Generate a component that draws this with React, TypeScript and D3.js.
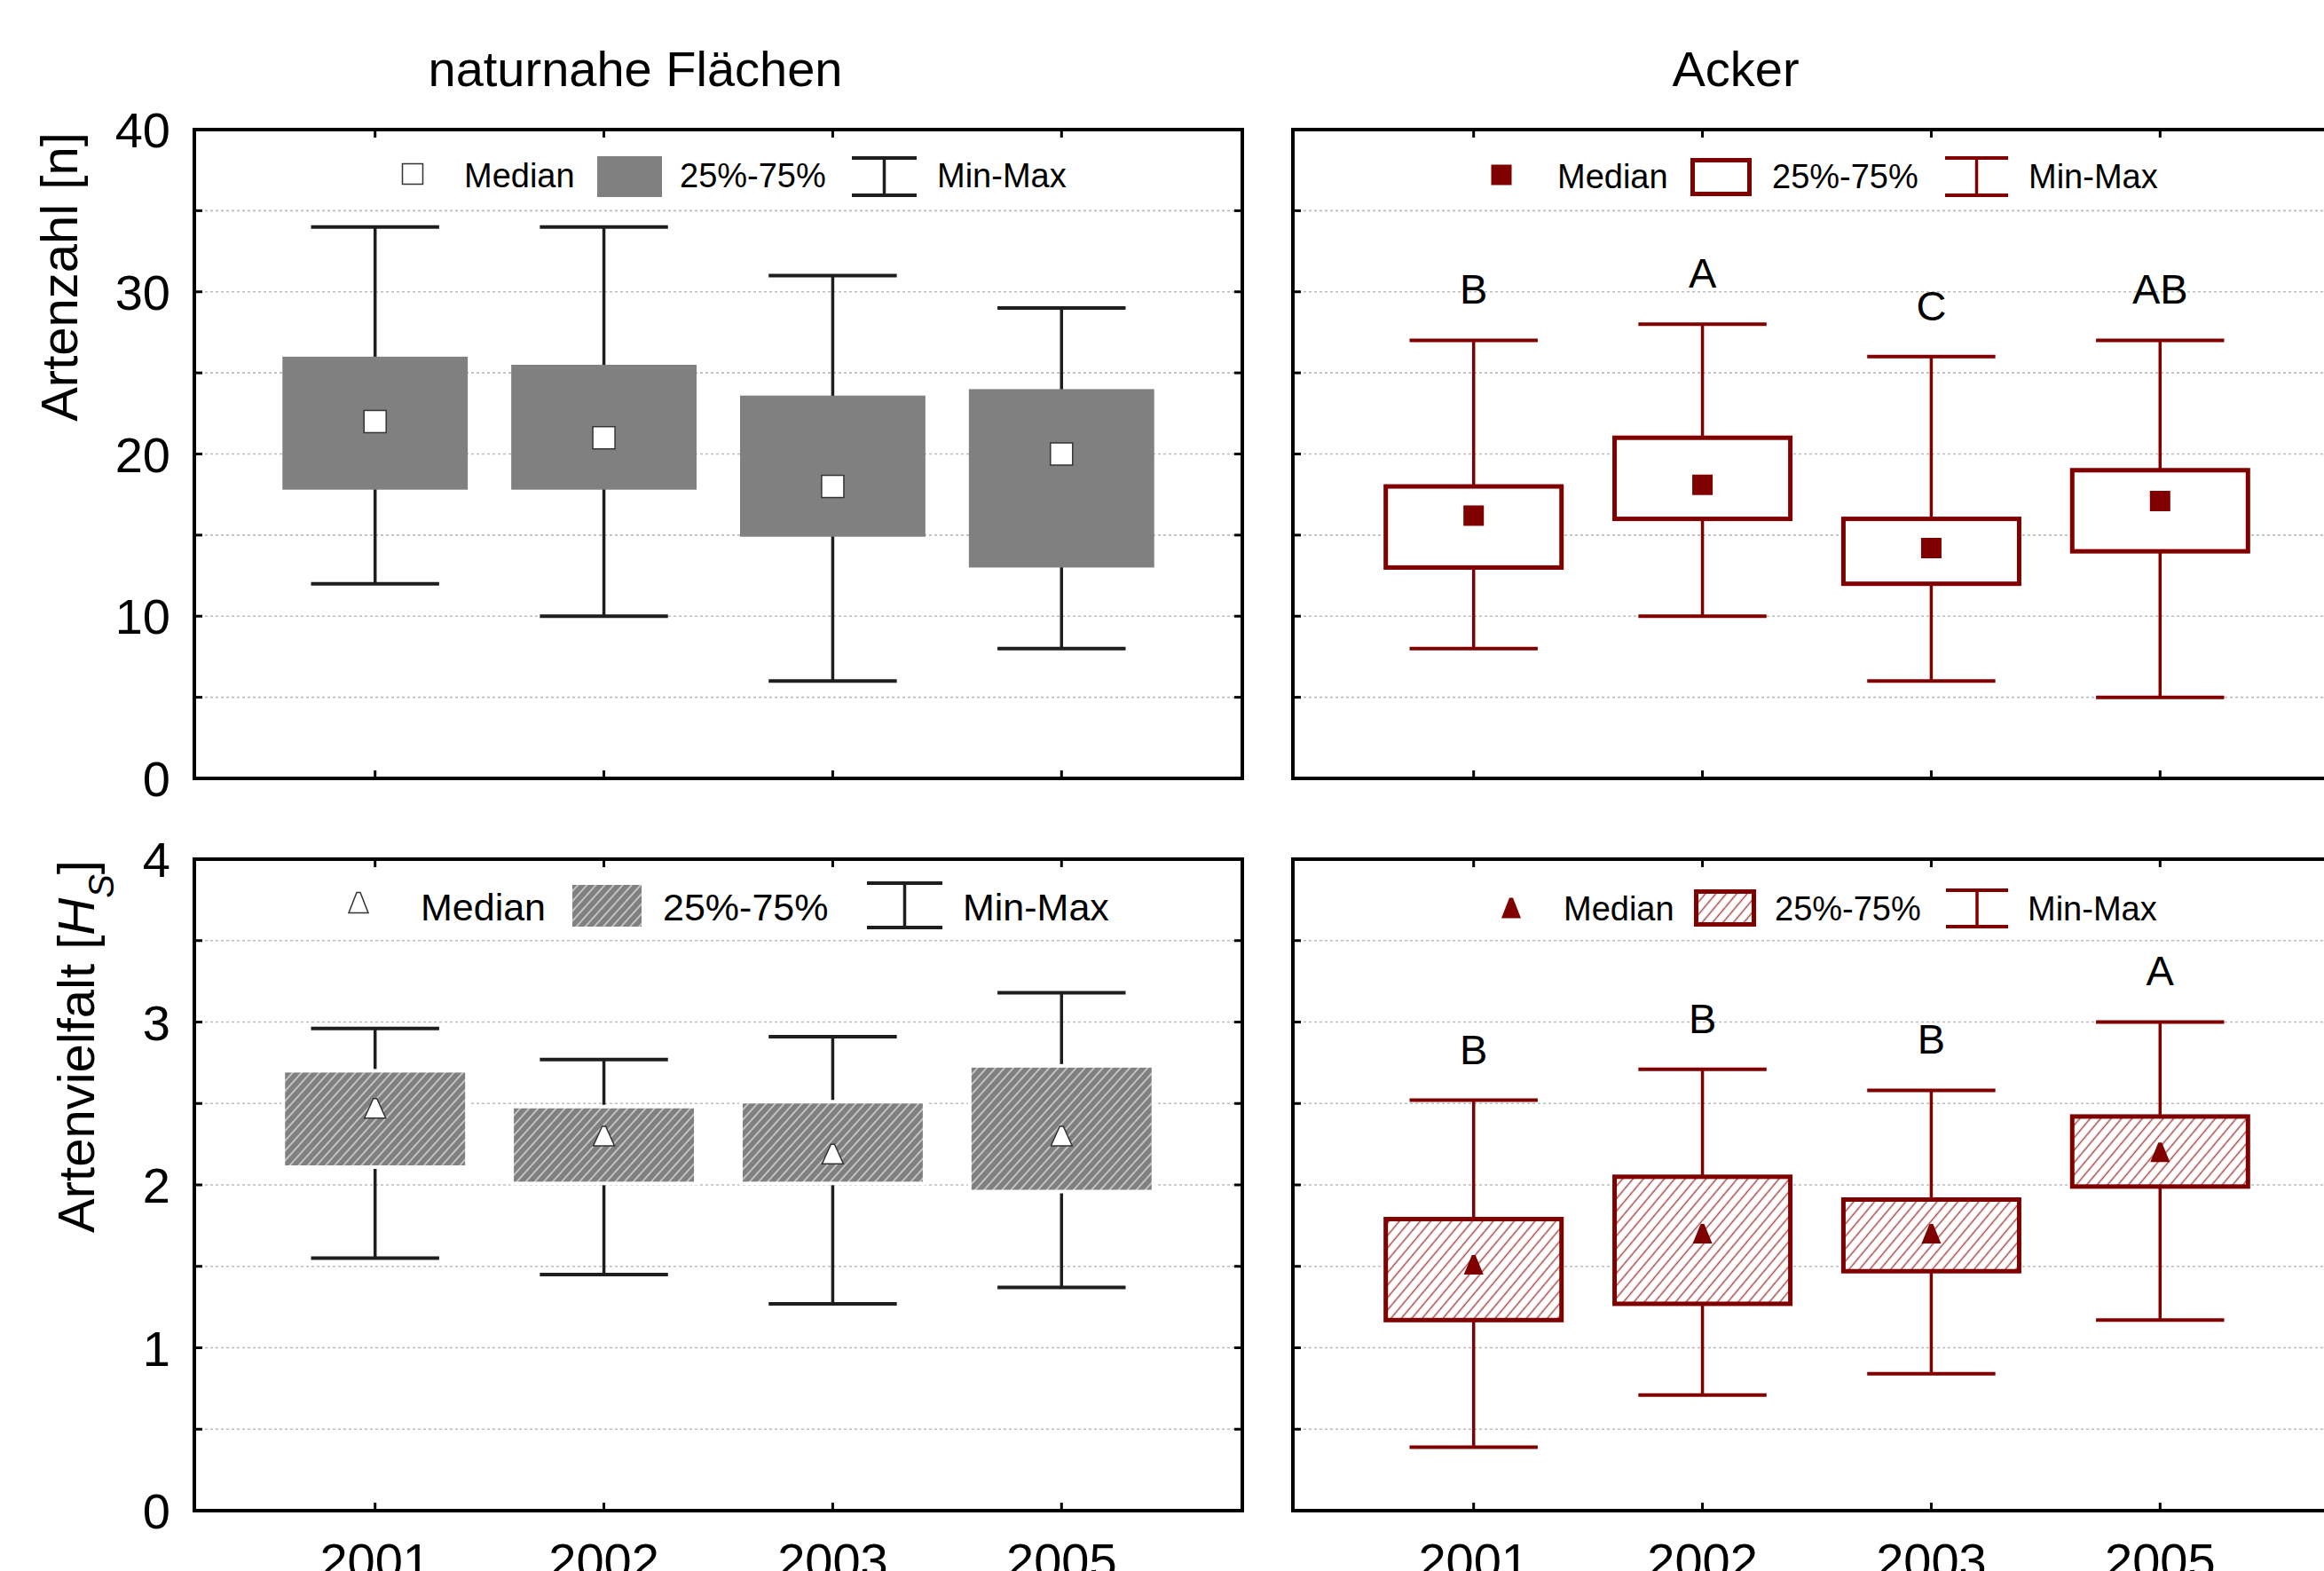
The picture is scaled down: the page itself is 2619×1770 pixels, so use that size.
import React from 'react'
import * as d3 from 'd3'

const W = 2619
const H = 1770
const font = '"Liberation Sans", Arial, Helvetica, sans-serif'
const dark = '#1e1e1e'
const red = '#800000'
const gray = '#808080'

const years = ['2001', '2002', '2003', '2005']

// Artenzahl [n], naturnahe Flächen
const natNMin = [12, 10, 6, 8]
const natNQ1 = [17.8, 17.8, 14.9, 13.0]
const natNMed = [22, 21, 18, 20]
const natNQ3 = [26, 25.5, 23.6, 24]
const natNMax = [34, 34, 31, 29]

// Artenzahl [n], Acker
const ackNMin = [8, 10, 6, 5]
const ackNQ1 = [13, 16, 12, 14]
const ackNMed = [16.2, 18.1, 14.2, 17.1]
const ackNQ3 = [18, 21, 16, 19]
const ackNMax = [27, 28, 26, 27]
const ackNLetters = ['B', 'A', 'C', 'AB']

// Artenvielfalt [Hs], naturnahe Flächen
const natHMin = [1.55, 1.45, 1.27, 1.37]
const natHQ1 = [2.12, 2.02, 2.02, 1.97]
const natHMed = [2.47, 2.30, 2.19, 2.30]
const natHQ3 = [2.69, 2.47, 2.50, 2.72]
const natHMax = [2.96, 2.77, 2.91, 3.18]

// Artenvielfalt [Hs], Acker
const ackHMin = [0.39, 0.71, 0.84, 1.17]
const ackHQ1 = [1.17, 1.27, 1.47, 1.99]
const ackHMed = [1.51, 1.70, 1.70, 2.20]
const ackHQ3 = [1.79, 2.05, 1.91, 2.42]
const ackHMax = [2.52, 2.71, 2.58, 3.00]
const ackHLetters = ['B', 'B', 'B', 'A']

const panelW = 1181

function triangle(cx: number, cy: number, w: number, h: number) {
  return `M${cx - 2},${cy - h / 2}L${cx + 2},${cy - h / 2}L${cx + w / 2},${cy + h / 2}L${cx - w / 2},${cy + h / 2}Z`
}

type PanelProps = {
  left: number
  top: number
  bottom: number
  yMax: number
  gridStep: number
  labelStep: number
  showY: boolean
  showX: boolean
  mins: number[]
  q1s: number[]
  meds: number[]
  q3s: number[]
  maxs: number[]
  letters?: string[]
  variant: 'gray' | 'red' | 'grayHatch' | 'redHatch'
}

function BoxPanel(p: PanelProps) {
  const right = p.left + panelW
  const x = d3.scalePoint<string>().domain(years).range([p.left, right]).padding(0.79)
  const y = d3.scaleLinear().domain([0, p.yMax]).range([p.bottom, p.top])
  const step = x.step()
  const isRed = p.variant === 'red' || p.variant === 'redHatch'
  const lineCol = isRed ? red : dark
  const boxW = p.variant === 'gray' ? step * 0.81 : isRed ? step * 0.768 : step * 0.787
  const capW = step * 0.56
  const grid = d3.range(p.gridStep, p.yMax - 1e-9, p.gridStep)
  const allTicks = d3.range(0, p.yMax + 1e-9, p.gridStep)
  const labels = d3.range(0, p.yMax + 1e-9, p.labelStep)
  const tri = p.variant === 'grayHatch' || p.variant === 'redHatch'

  return (
    <g>
      {grid.map(v => (
        <line key={'g' + v} x1={p.left} x2={right} y1={y(v)} y2={y(v)}
          stroke='#bcbcbc' strokeWidth={1.6} strokeDasharray='3,3' />
      ))}

      {years.map((yr, i) => {
        const cx = x(yr) as number
        return (
          <g key={yr}>
            <line x1={cx} x2={cx} y1={y(p.maxs[i])} y2={y(p.mins[i])} stroke={lineCol} strokeWidth={3.5} />
            <line x1={cx - capW / 2} x2={cx + capW / 2} y1={y(p.maxs[i])} y2={y(p.maxs[i])} stroke={lineCol} strokeWidth={4} />
            <line x1={cx - capW / 2} x2={cx + capW / 2} y1={y(p.mins[i])} y2={y(p.mins[i])} stroke={lineCol} strokeWidth={4} />
            {p.variant === 'grayHatch' && (
              <rect x={cx - boxW / 2 - 4} y={y(p.q3s[i]) - 4} width={boxW + 8}
                height={y(p.q1s[i]) - y(p.q3s[i]) + 8} fill='white' />
            )}
            <rect x={cx - boxW / 2} y={y(p.q3s[i])} width={boxW} height={y(p.q1s[i]) - y(p.q3s[i])}
              fill={p.variant === 'gray' ? gray : p.variant === 'red' ? 'white'
                : p.variant === 'grayHatch' ? 'url(#hatchGray)' : 'url(#hatchRed)'}
              stroke={isRed ? red : 'none'} strokeWidth={isRed ? 5 : 0} />
            {tri ? (
              <path d={triangle(cx, y(p.meds[i]), isRed ? 22 : 24, 22)}
                fill={isRed ? red : 'white'} stroke={isRed ? 'none' : '#333'} strokeWidth={1.5} />
            ) : (
              <rect x={cx - (isRed ? 11.5 : 12.5)} y={y(p.meds[i]) - (isRed ? 11.5 : 12.5)}
                width={isRed ? 23 : 25} height={isRed ? 23 : 25}
                fill={isRed ? red : 'white'} stroke={isRed ? 'none' : '#333'} strokeWidth={1.5} />
            )}
            {p.letters && (
              <text x={cx} y={y(p.maxs[i]) - 58} dy='0.36em' textAnchor='middle'
                fontSize={47} fontFamily={font} fill='black'>{p.letters[i]}</text>
            )}
          </g>
        )
      })}

      <rect x={p.left} y={p.top} width={panelW} height={p.bottom - p.top}
        fill='none' stroke='black' strokeWidth={4} />

      {allTicks.map(v => (
        <g key={'t' + v}>
          <line x1={p.left} x2={p.left + 9} y1={y(v)} y2={y(v)} stroke='black' strokeWidth={3} />
          <line x1={right - 9} x2={right} y1={y(v)} y2={y(v)} stroke='black' strokeWidth={3} />
        </g>
      ))}
      {years.map(yr => (
        <g key={'xt' + yr}>
          <line x1={x(yr)} x2={x(yr)} y1={p.top} y2={p.top + 9} stroke='black' strokeWidth={3} />
          <line x1={x(yr)} x2={x(yr)} y1={p.bottom - 9} y2={p.bottom} stroke='black' strokeWidth={3} />
        </g>
      ))}

      {p.showY && labels.map(v => (
        <text key={'yl' + v} x={p.left - 27} y={y(v)} dy='0.36em' textAnchor='end'
          fontSize={56} fontFamily={font} fill='black'>{v}</text>
      ))}
      {p.showX && years.map(yr => (
        <text key={'xl' + yr} x={x(yr)} y={p.bottom + 76} textAnchor='middle'
          fontSize={56} fontFamily={font} fill='black'>{yr}</text>
      ))}
    </g>
  )
}

type LegendProps = {
  markerX: number
  markerY: number
  medianX: number
  boxX: number
  boxY: number
  boxW: number
  boxH: number
  pctX: number
  whiskX: number
  whiskY: number
  whiskW: number
  whiskH: number
  minMaxX: number
  baseline: number
  fontSize: number
  variant: 'gray' | 'red' | 'grayHatch' | 'redHatch'
}

function Legend(l: LegendProps) {
  const isRed = l.variant === 'red' || l.variant === 'redHatch'
  const tri = l.variant === 'grayHatch' || l.variant === 'redHatch'
  const col = isRed ? red : dark
  const sw = isRed ? 5 : 0
  const wc = l.whiskX + l.whiskW / 2
  return (
    <g fontFamily={font} fontSize={l.fontSize} fill='black'>
      {tri ? (
        <path d={triangle(l.markerX, l.markerY, 22, 23)} fill={isRed ? red : 'white'}
          stroke={isRed ? 'none' : '#333'} strokeWidth={1.5} />
      ) : (
        <rect x={l.markerX - 11.5} y={l.markerY - 11.5} width={23} height={23}
          fill={isRed ? red : 'white'} stroke={isRed ? 'none' : '#333'} strokeWidth={1.5} />
      )}
      <text x={l.medianX} y={l.baseline}>Median</text>
      <rect x={l.boxX + sw / 2} y={l.boxY + sw / 2} width={l.boxW - sw} height={l.boxH - sw}
        fill={l.variant === 'gray' ? gray : l.variant === 'red' ? 'white'
          : l.variant === 'grayHatch' ? 'url(#hatchGray)' : 'url(#hatchRed)'}
        stroke={isRed ? red : 'none'} strokeWidth={sw} />
      <text x={l.pctX} y={l.baseline}>25%-75%</text>
      <line x1={wc} x2={wc} y1={l.whiskY} y2={l.whiskY + l.whiskH} stroke={col} strokeWidth={3.5} />
      <line x1={l.whiskX} x2={l.whiskX + l.whiskW} y1={l.whiskY + 2} y2={l.whiskY + 2} stroke={col} strokeWidth={4} />
      <line x1={l.whiskX} x2={l.whiskX + l.whiskW} y1={l.whiskY + l.whiskH - 2} y2={l.whiskY + l.whiskH - 2} stroke={col} strokeWidth={4} />
      <text x={l.minMaxX} y={l.baseline}>Min-Max</text>
    </g>
  )
}

export default function App() {
  return (
    <svg width={W} height={H} style={{ position: 'absolute', left: 0, top: 0, display: 'block' }}
      xmlns='http://www.w3.org/2000/svg'>
      <defs>
        <pattern id='hatchGray' patternUnits='userSpaceOnUse' width={7.5} height={7.5} patternTransform='rotate(42)'>
          <rect width={7.5} height={7.5} fill={gray} />
          <line x1={3.75} x2={3.75} y1={0} y2={7.5} stroke='#dcdcdc' strokeWidth={1.4} />
        </pattern>
        <pattern id='hatchRed' patternUnits='userSpaceOnUse' width={9} height={9} patternTransform='rotate(40)'>
          <rect width={9} height={9} fill='white' />
          <line x1={4.5} x2={4.5} y1={0} y2={9} stroke='#a84848' strokeWidth={1.5} />
        </pattern>
      </defs>
      <rect width={W} height={H} fill='white' />

      <text x={716} y={97} textAnchor='middle' fontSize={56} fontFamily={font}>naturnahe Flächen</text>
      <text x={1956} y={97} textAnchor='middle' fontSize={56} fontFamily={font}>Acker</text>

      <text transform='translate(87,312) rotate(-90)' textAnchor='middle' fontSize={58} fontFamily={font}>
        Artenzahl [n]
      </text>
      <text transform='translate(106,1179) rotate(-90)' textAnchor='middle' fontSize={58} fontFamily={font}>
        Artenvielfalt [<tspan fontStyle='italic'>H</tspan><tspan fontStyle='italic' fontSize={40} baselineShift='sub'>S</tspan>]
      </text>

      <BoxPanel left={219} top={146} bottom={877} yMax={40} gridStep={5} labelStep={10}
        showY showX={false} mins={natNMin} q1s={natNQ1} meds={natNMed} q3s={natNQ3} maxs={natNMax}
        variant='gray' />
      <BoxPanel left={1457} top={146} bottom={877} yMax={40} gridStep={5} labelStep={10}
        showY={false} showX={false} mins={ackNMin} q1s={ackNQ1} meds={ackNMed} q3s={ackNQ3} maxs={ackNMax}
        letters={ackNLetters} variant='red' />
      <BoxPanel left={219} top={968} bottom={1702} yMax={4} gridStep={0.5} labelStep={1}
        showY showX mins={natHMin} q1s={natHQ1} meds={natHMed} q3s={natHQ3} maxs={natHMax}
        variant='grayHatch' />
      <BoxPanel left={1457} top={968} bottom={1702} yMax={4} gridStep={0.5} labelStep={1}
        showY={false} showX mins={ackHMin} q1s={ackHQ1} meds={ackHMed} q3s={ackHQ3} maxs={ackHMax}
        letters={ackHLetters} variant='redHatch' />

      <Legend variant='gray' markerX={465} markerY={196} medianX={523} boxX={673} boxY={176} boxW={73} boxH={46}
        pctX={766} whiskX={960} whiskY={176} whiskW={73} whiskH={46} minMaxX={1056} baseline={211} fontSize={38} />
      <Legend variant='red' markerX={1692} markerY={197} medianX={1755} boxX={1905} boxY={178} boxW={69} boxH={43}
        pctX={1997} whiskX={2192} whiskY={176} whiskW={71} whiskH={46} minMaxX={2286} baseline={212} fontSize={38} />
      <Legend variant='grayHatch' markerX={404} markerY={1017} medianX={474} boxX={645} boxY={997} boxW={78} boxH={47}
        pctX={747} whiskX={977} whiskY={993} whiskW={85} whiskH={54} minMaxX={1085} baseline={1037} fontSize={43} />
      <Legend variant='redHatch' markerX={1703} markerY={1023} medianX={1762} boxX={1909} boxY={1002} boxW={70} boxH={42}
        pctX={2000} whiskX={2193} whiskY={1001} whiskW={70} whiskH={45} minMaxX={2285} baseline={1037} fontSize={38} />
    </svg>
  )
}
